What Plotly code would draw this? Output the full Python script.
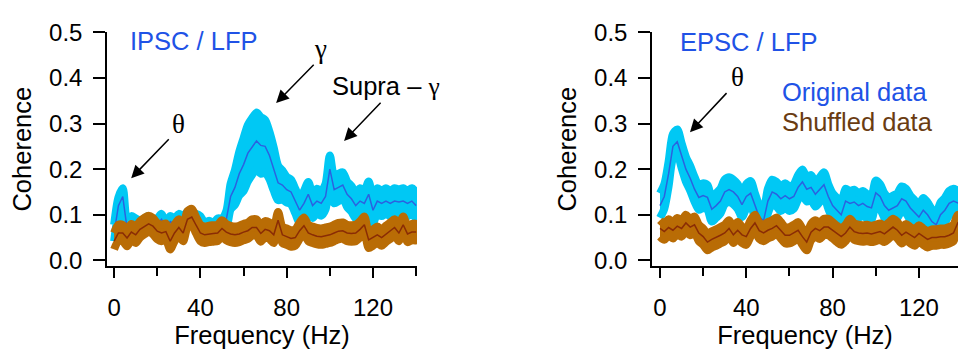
import plotly.graph_objects as go

freq = [i * 2 for i in range(71)]

ipsc_mean = [0.06, 0.12, 0.14, 0.07, 0.085, 0.08, 0.075, 0.08, 0.085, 0.075,
             0.08, 0.09, 0.07, 0.085, 0.08, 0.09, 0.085, 0.095, 0.09, 0.09,
             0.085, 0.07, 0.075, 0.07, 0.08, 0.08, 0.09, 0.14, 0.16, 0.19,
             0.21, 0.235, 0.25, 0.262, 0.252, 0.25, 0.23, 0.2, 0.17, 0.165,
             0.155, 0.15, 0.13, 0.11, 0.125, 0.145, 0.12, 0.13, 0.125, 0.14,
             0.2, 0.155, 0.16, 0.165, 0.145, 0.135, 0.12, 0.13, 0.125, 0.145,
             0.11, 0.13, 0.125, 0.13, 0.125, 0.13, 0.128, 0.13, 0.125, 0.13, 0.12]
ipsc_sem = [0.018, 0.018, 0.018, 0.018, 0.012, 0.012, 0.012, 0.012, 0.012, 0.012,
            0.012, 0.012, 0.012, 0.012, 0.012, 0.012, 0.012, 0.012, 0.012, 0.012,
            0.012, 0.012, 0.012, 0.012, 0.012, 0.012, 0.018, 0.028, 0.038, 0.048,
            0.058, 0.062, 0.062, 0.062, 0.062, 0.058, 0.052, 0.047, 0.038, 0.032,
            0.028, 0.027, 0.027, 0.027, 0.027, 0.027, 0.027, 0.027, 0.027, 0.028,
            0.03, 0.03, 0.03, 0.028, 0.028, 0.028, 0.028, 0.028, 0.028, 0.028,
            0.028, 0.028, 0.028, 0.028, 0.028, 0.028, 0.028, 0.028, 0.028, 0.028, 0.028]
ipsc_shuf_mean = [0.042, 0.06, 0.06, 0.049, 0.062, 0.056, 0.068, 0.075, 0.08, 0.075,
                  0.064, 0.06, 0.063, 0.042, 0.06, 0.072, 0.06, 0.09, 0.095, 0.077,
                  0.06, 0.056, 0.058, 0.059, 0.06, 0.07, 0.062, 0.058, 0.056, 0.058,
                  0.062, 0.065, 0.072, 0.072, 0.059, 0.068, 0.065, 0.056, 0.088, 0.056,
                  0.052, 0.048, 0.05, 0.065, 0.076, 0.06, 0.056, 0.053, 0.052, 0.054,
                  0.056, 0.06, 0.064, 0.065, 0.06, 0.059, 0.06, 0.068, 0.078, 0.045,
                  0.05, 0.056, 0.05, 0.058, 0.065, 0.072, 0.06, 0.078, 0.058, 0.062, 0.062]
ipsc_shuf_sem = [0.018] * 71

epsc_mean = [0.12, 0.14, 0.19, 0.25, 0.26, 0.23, 0.2, 0.18, 0.156, 0.138,
             0.142, 0.138, 0.112, 0.12, 0.13, 0.15, 0.155, 0.15, 0.14, 0.122,
             0.14, 0.147, 0.12, 0.095, 0.087, 0.13, 0.15, 0.145, 0.135, 0.142,
             0.135, 0.14, 0.16, 0.172, 0.156, 0.16, 0.145, 0.155, 0.166, 0.14,
             0.12, 0.11, 0.1, 0.13, 0.125, 0.128, 0.12, 0.125, 0.118, 0.115,
             0.148, 0.14, 0.12, 0.11, 0.115, 0.12, 0.135, 0.13, 0.115, 0.105,
             0.095, 0.11, 0.1, 0.085, 0.078, 0.1, 0.11, 0.125, 0.13, 0.126, 0.12]
epsc_sem = [0.027] * 71
epsc_shuf_mean = [0.07, 0.063, 0.072, 0.066, 0.075, 0.07, 0.082, 0.073, 0.078, 0.06,
                  0.052, 0.04, 0.046, 0.05, 0.055, 0.06, 0.07, 0.056, 0.066, 0.056,
                  0.052, 0.07, 0.082, 0.065, 0.06, 0.066, 0.07, 0.076, 0.066, 0.055,
                  0.055, 0.06, 0.066, 0.052, 0.04, 0.062, 0.07, 0.065, 0.073, 0.073,
                  0.066, 0.058, 0.052, 0.06, 0.073, 0.063, 0.06, 0.059, 0.06, 0.058,
                  0.06, 0.063, 0.058, 0.065, 0.073, 0.066, 0.055, 0.062, 0.055, 0.05,
                  0.059, 0.052, 0.046, 0.05, 0.05, 0.052, 0.052, 0.055, 0.06, 0.082, 0.075]
epsc_shuf_sem = [0.018] * 71

BAND_BLUE = "#00c8f4"
LINE_BLUE = "#2a62e0"
BAND_BROWN = "#b96c05"
LINE_BROWN = "#8a2c05"
TEXT_BLUE = "#2052e6"
TEXT_BROWN = "#6a3c12"
SANS = "Liberation Sans, Arial, sans-serif"
SERIF = "Liberation Serif, Times New Roman, serif"

fig = go.Figure()


def add_band(x, m, s, color, xa, ya):
    up = [a + b for a, b in zip(m, s)]
    lo = [a - b for a, b in zip(m, s)]
    fig.add_trace(go.Scatter(x=x + x[::-1], y=up + lo[::-1], fill="toself",
                             fillcolor=color, mode="lines",
                             line=dict(color=color, width=8, shape="spline", smoothing=0.8),
                             xaxis=xa, yaxis=ya, showlegend=False, hoverinfo="skip"))


def add_line(x, m, color, xa, ya):
    fig.add_trace(go.Scatter(x=x, y=m, mode="lines", line=dict(color=color, width=1.5),
                             xaxis=xa, yaxis=ya, showlegend=False))


add_band(freq, ipsc_mean, ipsc_sem, BAND_BLUE, "x", "y")
add_line(freq, ipsc_mean, LINE_BLUE, "x", "y")
add_band(freq, ipsc_shuf_mean, ipsc_shuf_sem, BAND_BROWN, "x", "y")
add_line(freq, ipsc_shuf_mean, LINE_BROWN, "x", "y")

add_band(freq, epsc_mean, epsc_sem, BAND_BLUE, "x2", "y2")
add_line(freq, epsc_mean, LINE_BLUE, "x2", "y2")
add_band(freq, epsc_shuf_mean, epsc_shuf_sem, BAND_BROWN, "x2", "y2")
add_line(freq, epsc_shuf_mean, LINE_BROWN, "x2", "y2")

tickfont = dict(family=SANS, size=24, color="black")
titlefont = dict(family=SANS, size=25.5, color="black")
xcommon = dict(showline=True, linecolor="black", linewidth=1.5, ticks="outside",
               ticklen=10, tickwidth=1.5, tickcolor="black", tick0=0, dtick=40,
               minor=dict(dtick=20, ticks="outside", ticklen=8, tickwidth=1.5, tickcolor="black"),
               showgrid=False, zeroline=False, tickfont=tickfont, ticklabelstandoff=9,
               title=dict(text="Frequency (Hz)", font=titlefont, standoff=2))
ycommon = dict(showline=True, linecolor="black", linewidth=1.5, ticks="outside",
               ticklen=12, tickwidth=1.5, tickcolor="black", tick0=0, dtick=0.1,
               tickformat=".1f", range=[-0.0124, 0.5], showgrid=False, zeroline=False,
               tickfont=tickfont, ticklabelstandoff=6,
               title=dict(text="Coherence", font=titlefont, standoff=10))

fig.update_layout(
    width=958, height=352, margin=dict(l=0, r=0, t=0, b=0),
    plot_bgcolor="white", paper_bgcolor="white",
    xaxis=dict(domain=[107 / 958, 417 / 958], range=[-3.3, 140.4], anchor="y", **xcommon),
    yaxis=dict(domain=[1 - 268 / 352, 1 - 19.5 / 352], anchor="x", **ycommon),
    xaxis2=dict(domain=[652 / 958, 1.0], range=[-3.7, 138.1], anchor="y2", **xcommon),
    yaxis2=dict(domain=[1 - 268 / 352, 1 - 19.5 / 352], anchor="x2", **ycommon),
)

anns = []


def text_ann(xr, yr, x, y, text, color="black", family=SANS, size=25.5, xanchor="left"):
    anns.append(dict(xref=xr, yref=yr, x=x, y=y, text=text, showarrow=False,
                     font=dict(family=family, size=size, color=color),
                     xanchor=xanchor, yanchor="middle"))


def arrow_ann(xr, yr, x0, y0, x1, y1):
    anns.append(dict(xref=xr, yref=yr, axref=xr, ayref=yr, x=x1, y=y1, ax=x0, ay=y0,
                     text="", showarrow=True, arrowhead=2, arrowsize=1.7,
                     arrowwidth=1.5, arrowcolor="black"))


text_ann("x", "y", 6.5, 0.481, "IPSC / LFP", color=TEXT_BLUE)
text_ann("x", "y", 29.7, 0.30, "θ", family=SERIF, size=27, xanchor="center")
arrow_ann("x", "y", 26, 0.269, 7.9, 0.18)
text_ann("x", "y", 95.5, 0.463, "γ", family=SERIF, size=27, xanchor="center")
arrow_ann("x", "y", 93.2, 0.432, 75.1, 0.345)
text_ann("x", "y", 126, 0.382,
         'Supra – <span style="font-family:Liberation Serif, Times New Roman, serif">γ</span>',
         xanchor="center")
arrow_ann("x", "y", 124.2, 0.349, 106.6, 0.262)

text_ann("x2", "y2", 8.3, 0.479, "EPSC / LFP", color=TEXT_BLUE)
text_ann("x2", "y2", 35.7, 0.403, "θ", family=SERIF, size=27, xanchor="center")
arrow_ann("x2", "y2", 31.5, 0.37, 13.9, 0.281)
text_ann("x2", "y2", 55.6, 0.37, "Original data", color=TEXT_BLUE)
text_ann("x2", "y2", 55.6, 0.304, "Shuffled data", color=TEXT_BROWN)

fig.update_layout(annotations=anns)

fig.write_html("out.html")
